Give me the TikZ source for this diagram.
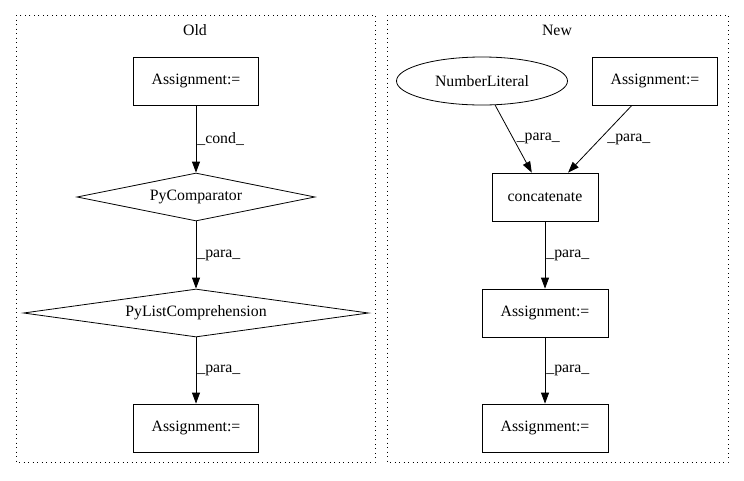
\documentclass[tikz,border=0pt]{standalone}
\usepackage{fontspec}
\setmainfont{Liberation Serif}
\usetikzlibrary{shapes.geometric,arrows.meta}
\begin{document}
\begin{tikzpicture}[x=1pt,y=-1pt,
  every node/.style={font=\fontsize{15.8}{18}\selectfont},
  box/.style={draw,thick,rectangle,inner sep=0pt,minimum width=#1,minimum height=48},
  dia/.style={draw,thick,diamond,aspect=5,inner sep=0pt,minimum width=#1,minimum height=48},
  oval/.style={draw,thick,ellipse,inner sep=0pt,minimum width=171,minimum height=48},
  cluster/.style={draw,line width=1pt,dash pattern=on 1pt off 3.5pt},
  edge/.style={draw,thick,-{Triangle[length=11pt,width=8pt]}},
  lbl/.style={anchor=west,inner sep=1pt}]
\useasboundingbox (0,0) rectangle (744,480);
% clusters
\draw[cluster] (16,15) rectangle (375,462);
\draw[cluster] (387,15) rectangle (728,462);
\node (oldt) at (195,30) {Old};
\node (newt) at (557,30) {New};
% Old
\node[box=125] (oa1) at (196,81) {Assignment:=};
\node[dia=238] (pc) at (196,197) {PyComparator};
\node[dia=345] (plc) at (196,313) {PyListComprehension};
\node[box=125] (oa2) at (196,428) {Assignment:=};
\draw[edge] (oa1) -- node[lbl,pos=0.5] {\_cond\_} (pc.north);
\draw[edge] (pc.south) -- node[lbl,pos=0.5] {\_para\_} (plc.north);
\draw[edge] (plc.south) -- node[lbl,pos=0.5] {\_para\_} (oa2);
% New
\node[oval] (nl) at (482,81) {NumberLiteral};
\node[box=125] (na1) at (655,81) {Assignment:=};
\node[box=106] (cc) at (545,197) {concatenate};
\node[box=126] (na2) at (545,313) {Assignment:=};
\node[box=126] (na3) at (545,428) {Assignment:=};
\draw[edge] (nl) -- node[lbl,pos=0.5,xshift=2pt] {\_para\_} (cc);
\draw[edge] (na1) -- node[lbl,pos=0.5,xshift=6pt] {\_para\_} (cc);
\draw[edge] (cc) -- node[lbl,pos=0.5] {\_para\_} (na2);
\draw[edge] (na2) -- node[lbl,pos=0.5] {\_para\_} (na3);
\end{tikzpicture}
\end{document}
